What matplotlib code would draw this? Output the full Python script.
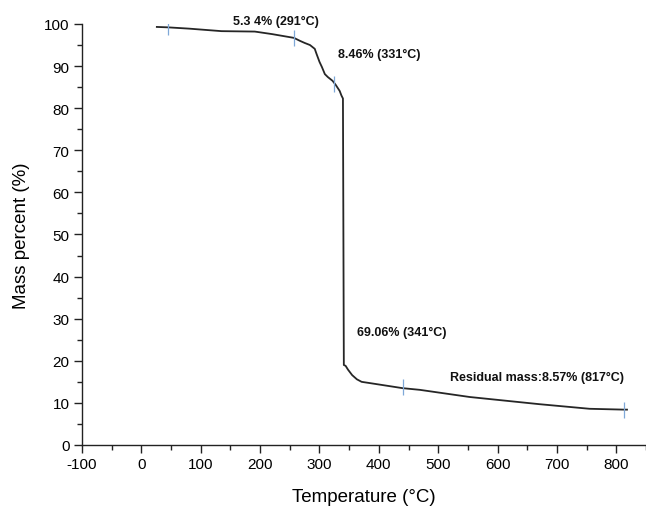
import matplotlib.pyplot as plt
from matplotlib.ticker import MultipleLocator

plt.rcParams['font.family'] = ['Liberation Sans', 'DejaVu Sans']
plt.rcParams['axes.unicode_minus'] = False

# TGA curve
temperature = [26, 45, 80, 135, 191, 220, 257, 267, 275, 284, 292, 295,
               300, 304, 309, 314, 322, 327, 334, 337, 339.5,
               341, 344, 348, 355, 363, 371, 385, 440, 469, 553, 670, 755, 813, 818]
mass = [99.3, 99.2, 98.9, 98.3, 98.2, 97.6, 96.7, 96.0, 95.5, 95.0, 94.1, 92.9,
        91.0, 89.8, 88.1, 87.4, 86.5, 85.6, 84.1, 83.0, 82.3,
        19.0, 18.8, 17.9, 16.6, 15.6, 15.0, 14.7, 13.5, 13.1, 11.4, 9.7, 8.6, 8.4, 8.4]

# blue marks on the curve
mark_t = [45, 257, 324, 440, 813]
mark_m = [99.2, 96.7, 85.7, 13.7, 8.4]

# annotations
notes = ["5.3 4% (291°C)", "8.46% (331°C)", "69.06% (341°C)",
         "Residual mass:8.57% (817°C)"]
note_x = [154, 331, 364, 519]
note_y = [100.7, 92.9, 26.8, 16.2]

fig = plt.figure(figsize=(6.46, 5.10), dpi=100)
ax = fig.add_axes([0.127, 0.1255, 0.873, 0.8255])

ax.plot(temperature, mass, color='#262626', lw=1.3, zorder=2,
        solid_joinstyle='round')
ax.plot(mark_t, mark_m, ls='none', marker='|', ms=12, mew=0.9,
        color='#7fa8d8', zorder=3)

for s, x, y in zip(notes, note_x, note_y):
    ax.text(x, y, s, fontsize=9, fontweight='bold', va='center', ha='left',
            color='#111111', clip_on=False)

ax.set_xlim(-100, 850)
ax.set_ylim(0, 100)
ax.xaxis.set_major_locator(MultipleLocator(100))
ax.xaxis.set_minor_locator(MultipleLocator(50))
ax.yaxis.set_major_locator(MultipleLocator(10))
ax.yaxis.set_minor_locator(MultipleLocator(5))
ax.set_xticks(range(-100, 801, 100))

ax.spines['top'].set_visible(False)
ax.spines['right'].set_visible(False)
for sp in ['left', 'bottom']:
    ax.spines[sp].set_linewidth(1.0)
    ax.spines[sp].set_color('#222222')

ax.tick_params(which='major', length=6, width=1.0, direction='out',
               labelsize=11, color='#222222', pad=3)
ax.tick_params(which='minor', length=3.5, width=1.0, direction='out',
               color='#222222')

ax.set_xlabel("Temperature (°C)", fontsize=13.5, labelpad=12)
ax.set_ylabel("Mass percent (%)", fontsize=13.5, labelpad=10)

fig.savefig("out.png", dpi=100)
